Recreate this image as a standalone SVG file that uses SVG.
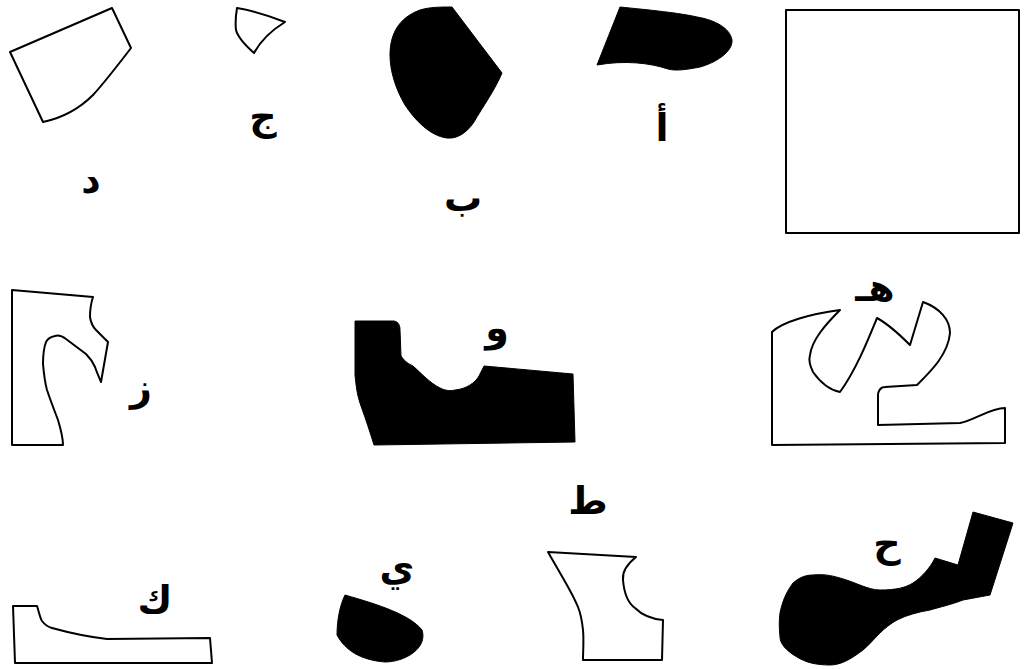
<svg xmlns="http://www.w3.org/2000/svg" width="1028" height="669" viewBox="0 0 1028 669">
<style>
.o{fill:#fff;stroke:#000;stroke-width:2;stroke-linejoin:round}
.f{fill:#000;stroke:#000;stroke-width:1}
.t{font-family:"DejaVu Sans",sans-serif;font-weight:bold;font-size:38px;text-anchor:middle;fill:#000}
</style>
<rect width="1028" height="669" fill="#fff"/>
<g id="dal">
<path class="o" d="M10,52 L112,8 L131,48 C118,65 105,82 93,95 C80,108 62,118 43,122 Z"/>
<text class="t" x="91" y="193">د</text>
</g>
<g id="jim">
<path class="o" d="M237,8 C255,11 270,16 285,22 C272,30 260,42 254,53 C245,45 238,38 236,30 C235,22 236,14 237,8 Z"/>
<text class="t" x="263" y="130">ج</text>
</g>
<g id="ba">
<path class="f" d="M452,7 L502,73 C495,90 482,108 474,122 C466,134 456,139 447,138 C430,136 415,120 405,105 C395,88 390,70 390,55 C390,35 398,18 420,10 C430,7 440,7 452,7 Z"/>
<text class="t" x="463" y="211">ب</text>
</g>
<g id="alif">
<path class="f" d="M620,7 C650,10 680,13 697,17 C715,20 730,28 732,40 C733,52 715,63 700,67 C685,70 675,71 668,69 C650,63 625,60 597,65 Z"/>
<text class="t" x="662" y="141">أ</text>
</g>
<g id="square">
<rect class="o" x="786" y="10" width="233" height="223"/>
</g>
<g id="zay">
<path class="o" d="M12,290 L93,297 C91,303 90,310 90,317 C91,324 93,327 96,330 L108,342 L101,382 C98,375 96,370 95,367 C92,360 89,357 86,354 L66,339 C62,336 58,335 55,336 C50,337 47,340 46,342 C43,350 43,358 43,364 C44,375 45,383 47,390 C51,402 55,412 58,420 C61,430 63,438 63,445 L12,445 Z"/>
<text class="t" x="141" y="401">ز</text>
</g>
<g id="waw">
<path class="f" d="M355,321 L394,321 C399,322 400,326 400,330 L401,356 C405,362 409,364 413,366 C422,374 430,383 440,388 C446,391 451,391 455,390 C466,389 475,383 479,376 L484,366 L573,374 L575,442 L374,445 C370,432 366,420 361,406 C357,395 356,385 355,375 Z"/>
<text class="t" x="497" y="341">و</text>
</g>
<g id="ha">
<path class="o" d="M772,332 C782,322 810,314 840,310 C825,325 812,340 810,355 C808,362 812,370 813,372 C820,382 830,390 840,392 C856,370 868,340 877,318 C888,324 900,335 910,345 L923,302 C940,308 950,320 950,333 C948,355 930,372 917,385 L885,387 C880,387 878,392 878,395 L878,425 L960,423 C975,420 990,408 1005,408 L1005,443 L772,445 Z"/>
<text class="t" x="875" y="301">هـ</text>
</g>
<g id="ta">
<path class="o" d="M548,552 L636,557 C626,565 622,572 623,580 C624,592 628,603 635,608 C642,615 652,619 663,620 L662,660 L583,660 C583,650 584,640 583,630 C582,620 580,612 578,607 C572,592 565,582 548,552 Z"/>
<text class="t" x="588" y="514">ط</text>
</g>
<g id="hha">
<path class="f" d="M973,512 L1013,523 L990,595 L963,600 C950,605 940,607 930,610 C918,612 907,615 897,620 C890,624 885,628 880,633 C873,640 868,646 863,650 C850,660 840,665 830,665 C815,665 805,662 797,657 C785,650 780,643 780,637 C779,628 779,620 780,613 C783,598 788,590 793,583 C800,577 806,575 813,575 C822,574 830,575 840,578 C855,582 868,590 880,590 C895,590 905,588 913,583 C922,577 930,568 935,558 L958,565 Z"/>
<text class="t" x="887" y="557">ح</text>
</g>
<g id="ya">
<path class="f" d="M345,595 C380,605 410,615 422,630 C428,648 405,662 385,662 C360,660 345,650 337,635 C337,620 340,605 345,595 Z"/>
<text class="t" x="397" y="581">ي</text>
</g>
<g id="kaf">
<path class="o" d="M13,606 L37,606 C39,612 40,618 42,621 C45,625 48,627 52,628 C70,633 90,637 107,639 L210,638 L212,663 L15,663 Z"/>
<text class="t" x="155" y="613">ك</text>
</g>
<g id="connectors"></g>
</svg>
